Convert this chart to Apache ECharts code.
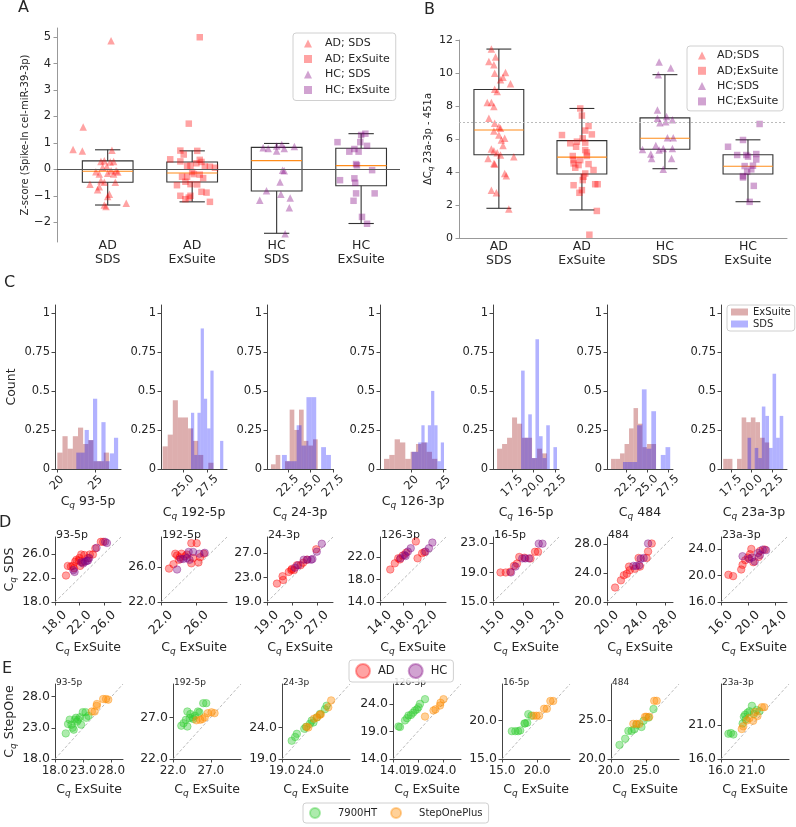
<!DOCTYPE html>
<html><head><meta charset="utf-8">
<script src="https://cdn.jsdelivr.net/npm/echarts@6/dist/echarts.min.js"></script>
<style>html,body{margin:0;padding:0;background:#fff}#c{width:796px;height:827px}</style>
</head><body><div id="c"></div>
<script>
// ================= DATA =================
const groupLabels = ['AD\nSDS', 'AD\nExSuite', 'HC\nSDS', 'HC\nExSuite'];
const groupPositions = [1, 2, 3, 4];

// Panel A – box stats [low whisker, Q1, median, Q3, high whisker]
const aBoxes = [
  [-1.35, -0.49, -0.07, 0.32, 0.74],
  [-1.23, -0.48, -0.14, 0.28, 0.70],
  [-2.42, -0.82, 0.33, 0.83, 0.98],
  [-2.05, -0.62, 0.14, 0.80, 1.35]
];
// Panel A – points [jitter offset, z-score]
const aAdSds = [[0.04,4.87],[-0.29,1.6],[-0.41,0.75],[-0.30,0.69],[0.05,0.72],[-0.08,0.30],[-0.04,0.33],[0.03,0.28],[0.07,0.30],[-0.01,0.11],[-0.14,-0.09],[-0.10,-0.18],[0.0,-0.15],[0.04,-0.05],[0.10,-0.05],[0.12,-0.10],[-0.21,-0.56],[-0.08,-0.43],[-0.04,-0.49],[0.09,-0.49],[-0.12,-0.77],[-0.10,-0.66],[0.02,-0.94],[0.0,-1.03],[-0.04,-1.35],[-0.02,-1.41],[0.22,-1.28],[-0.06,0.08],[0.07,-0.18]];
const aAdEx = [[0.09,5.0],[-0.04,1.73],[-0.14,0.71],[0.06,0.70],[-0.10,0.56],[-0.26,0.38],[-0.14,0.30],[0.09,0.36],[0.05,0.23],[0.11,0.28],[-0.02,0.14],[0.15,0.11],[0.21,0.10],[0.27,0.06],[0.0,-0.10],[0.02,-0.18],[-0.12,-0.28],[-0.06,-0.28],[0.13,-0.33],[-0.08,-0.47],[-0.02,-0.56],[-0.18,-0.60],[0.06,-0.57],[0.11,-0.85],[0.17,-0.88],[-0.14,-1.0],[-0.02,-1.0],[-0.04,-1.07],[-0.08,-1.13],[0.21,-1.23],[-0.06,0.13],[0.09,-0.2]];
const aHcSds = [[0.06,0.94],[0.0,0.88],[0.21,0.86],[-0.16,0.82],[-0.10,0.79],[0.09,0.79],[0.0,0.69],[0.07,-0.03],[0.09,-0.05],[0.04,-0.48],[-0.12,-0.81],[0.05,-0.94],[0.16,-1.08],[-0.20,-1.17],[0.15,-1.45],[0.10,-2.44]];
const aHcEx = [[0.05,1.35],[0.0,1.30],[-0.28,1.03],[-0.01,1.03],[0.07,0.89],[-0.08,0.77],[-0.14,0.67],[-0.03,0.67],[-0.06,0.20],[-0.05,0.15],[0.13,-0.03],[-0.08,-0.34],[-0.25,-0.41],[-0.07,-0.51],[-0.06,-0.91],[0.16,-0.91],[-0.09,-1.19],[0.01,-1.80],[0.07,-2.06]];
const aYTicks = [-2, -1, 0, 1, 2, 3, 4, 5];

// Panel B – box stats
const bBoxes = [
  [1.8, 5.05, 6.55, 9.0, 11.45],
  [1.7, 3.88, 4.9, 5.9, 7.85],
  [4.2, 5.38, 6.05, 7.28, 9.9],
  [2.2, 3.88, 4.35, 5.05, 5.95]
];
const bThreshold = 7.0;
const bAdSds = [[-0.09,11.45],[-0.12,10.7],[-0.04,10.97],[-0.06,10.5],[0.08,10.03],[-0.05,9.99],[0.05,9.75],[0.02,9.59],[0.14,9.35],[-0.05,9.02],[-0.02,8.88],[-0.14,8.21],[-0.09,8.21],[-0.06,7.97],[-0.12,7.26],[-0.05,6.95],[0.0,6.75],[0.02,6.65],[-0.06,6.49],[0.0,6.24],[0.07,6.04],[0.03,5.94],[0.05,5.6],[-0.09,5.39],[-0.06,5.29],[-0.02,5.17],[0.02,5.03],[-0.13,4.82],[0.18,4.93],[-0.06,4.52],[-0.05,4.48],[0.07,3.91],[0.09,3.77],[-0.09,2.9],[-0.03,2.74],[0.12,1.76]];
const bAdEx = [[-0.02,7.85],[0.0,7.42],[0.08,6.79],[0.04,6.51],[0.12,6.28],[-0.24,6.24],[0.01,6.04],[-0.06,5.84],[0.04,5.78],[-0.14,5.74],[-0.07,5.53],[0.04,5.33],[0.06,5.19],[-0.11,4.97],[0.06,4.97],[-0.10,4.72],[-0.02,4.72],[0.08,4.48],[-0.10,4.52],[-0.04,4.42],[-0.08,4.26],[0.14,4.12],[0.04,3.91],[0.02,3.71],[0.01,3.51],[-0.10,3.2],[0.19,3.26],[0.16,3.26],[0.0,2.9],[-0.03,2.74],[0.18,1.64],[0.09,0.2]];
const bHcSds = [[-0.07,10.66],[0.07,10.3],[-0.08,9.89],[-0.09,7.76],[-0.09,7.26],[0.02,7.36],[0.09,7.16],[-0.06,6.99],[0.01,7.05],[0.03,6.08],[0.10,6.08],[-0.11,5.6],[-0.02,5.43],[0.09,5.43],[-0.27,5.37],[-0.07,5.33],[-0.17,5.09],[-0.16,4.82],[0.08,4.82],[-0.02,4.16]];
const bHcEx = [[0.14,6.91],[-0.06,5.94],[-0.24,5.53],[-0.13,5.03],[-0.02,5.03],[0.10,5.09],[0.0,4.93],[0.10,4.76],[-0.04,4.36],[0.06,4.38],[0.04,4.16],[-0.01,4.01],[-0.06,3.75],[-0.06,3.67],[0.07,3.16],[0.02,2.19]];
const bYTicks = [0, 2, 4, 6, 8, 10, 12];

// miRNA names
const mirNames = ['93-5p', '192-5p', '24-3p', '126-3p', '16-5p', '484', '23a-3p'];

// Panel C – histograms (density): first bin edge, bin width, heights
const histExStart = [20.04, 22.87, 20.61, 15.67, 15.77, 20.68, 16.57];
const histExWidth = [0.67, 0.523, 0.519, 0.833, 0.577, 0.536, 0.554];
const histExHeights = [
  [0.105,0.21,0.13,0.21,0.265,0.16,0.185,0.05,0.05,0.105],
  [0.145,0.22,0.44,0.33,0.33,0.26,0.18,0.09,0,0.04],
  [0.03,0.09,0,0.05,0.38,0.25,0.38,0.18,0.15,0.19],
  [0.065,0.09,0.19,0.17,0.065,0.11,0.16,0.17,0.11,0.065],
  [0.13,0.16,0.2,0.33,0.29,0.2,0.2,0.07,0.13,0.1],
  [0.065,0.065,0.1,0.16,0.26,0.39,0.29,0.14,0.16,0.16],
  [0.065,0.065,0,0.065,0.33,0.3,0.33,0.3,0.2,0.17]
];
const histSdsStart = [22.5, 25.79, 21.83, 20.0, 18.54, 22.1, 19.5];
const histSdsWidth = [0.543, 0.333, 0.544, 0.505, 0.415, 0.563, 0.43];
const histSdsHeights = [
  [0.105,0.105,0.25,0.185,0.45,0.05,0.3,0.05,0.1,0.2],
  [0.36,0.09,0.36,0.9,0.45,0.26,0.63,0,0,0.18],
  [0.09,0.05,0.05,0.28,0.15,0.46,0.46,0,0.14,0.09],
  [0.11,0.11,0.17,0.28,0.17,0.28,0.5,0.28,0.05,0.17],
  [0.63,0.2,0.35,0.07,0.83,0.21,0.07,0.28,0,0.14],
  [0.045,0.045,0.045,0.28,0.51,0.13,0.37,0,0.09,0.14],
  [0.2,0,0.135,0.07,0.4,0.34,0.135,0.61,0.2,0.34]
];
const cXRange = [[19.74,28.3],[22.7,29.5],[20.17,27.5],[15.05,25.36],[15.3,22.92],[20.2,28.06],[16.3,24.25]];
const cXTicks = [[20,25],[25,27.5],[22.5,25,27.5],[20,25],[17.5,20,22.5],[22.5,25,27.5],[17.5,20,22.5]];
const cXDecimals = [0,1,1,0,1,1,1];
const cYTicks = [0, 0.25, 0.5, 0.75, 1];

// Panel D – Cq ExSuite (x) vs Cq SDS (y)
const dAd = [
  [[19.8,22.4],[20.1,24.0],[20.6,23.9],[20.9,24.0],[21.3,24.7],[21.5,25.0],[21.9,24.9],[22.3,25.9],[22.1,24.0],[22.8,25.8],[23.7,25.9],[24.2,25.9],[24.6,26.9],[25.5,28.0],[25.9,28.0],[22.5,24.6],[21.1,23.6],[23.4,25.3],[22.0,25.3]],
  [[22.9,25.8],[23.4,26.3],[23.6,27.5],[24.1,27.1],[24.3,27.5],[24.7,27.2],[24.9,27.4],[25.4,28.7],[26.0,28.7],[25.6,27.0],[26.4,27.1],[26.8,27.5],[25.4,26.4],[26.2,26.5],[24.0,26.8],[23.8,27.3]],
  [[20.6,22.0],[21.6,22.6],[21.5,23.2],[22.9,24.2],[23.3,24.2],[23.8,25.0],[24.4,25.0],[25.4,25.9],[26.9,27.6],[24.8,25.4],[23.0,24.4],[22.5,23.9]],
  [[15.8,19.8],[16.6,20.9],[17.2,21.8],[18.0,22.3],[18.6,22.8],[20.3,24.8],[20.6,21.8],[21.4,22.7],[21.8,22.9],[17.5,21.6]],
  [[16.0,19.0],[16.7,19.0],[17.8,19.9],[18.2,20.2],[18.5,21.1],[19.2,21.0],[20.0,20.9],[20.6,21.8],[21.0,21.8],[17.3,19.1]],
  [[21.1,22.0],[21.9,23.0],[22.3,23.7],[22.7,23.9],[23.1,24.4],[23.8,24.6],[24.5,24.9],[24.3,26.1],[25.4,26.1],[25.6,27.0],[26.1,28.1],[23.0,24.9]],
  [[17.1,20.1],[17.8,19.9],[19.0,20.9],[19.2,21.6],[19.6,22.3],[20.0,22.7],[20.5,24.0],[20.8,22.0],[21.6,22.8],[21.8,23.7],[22.5,23.9],[20.3,23.2]]
];
const dHc = [
  [[21.0,23.3],[21.2,23.0],[22.6,24.4],[23.2,24.8],[23.6,25.3],[22.9,24.7],[24.8,27.0],[26.2,28.0],[26.5,27.8],[22.3,24.6],[23.4,24.9]],
  [[23.8,25.7],[24.2,26.9],[24.9,27.0],[25.1,27.7],[25.6,27.7],[26.3,27.5],[26.9,27.6],[25.2,26.8],[24.5,26.9]],
  [[24.0,25.0],[24.9,25.9],[25.5,25.9],[26.1,25.9],[26.3,26.0],[27.0,27.2],[27.8,28.5],[23.5,24.6]],
  [[17.6,21.8],[18.3,22.4],[18.9,23.0],[19.4,23.6],[22.0,23.0],[22.6,23.6],[23.2,24.6],[18.5,22.2]],
  [[17.4,19.0],[18.9,20.9],[19.3,20.9],[19.8,20.9],[21.1,22.9],[21.6,22.9],[18.0,19.8]],
  [[23.6,25.0],[24.0,25.0],[24.4,25.1],[25.0,26.1],[25.6,28.1],[24.6,26.0]],
  [[19.2,22.9],[20.2,22.5],[21.0,22.1],[21.5,23.4],[21.8,23.1],[22.2,23.9],[22.7,23.8],[20.6,22.7]]
];
const dRange = [[18,28.8],[22,29.4],[19,29.6],[14,25.6],[15,23.8],[20,29],[16,25.8]];
const dTicks = [[18,22,26],[22,26],[19,23,27],[14,18,22],[15,19,23],[20,24,28],[16,20,24]];

// Panel E – Cq ExSuite (x) vs Cq StepOne (y)
const e7900 = [
  [[19.9,22.1],[20.3,23.6],[20.9,23.5],[21.3,22.7],[21.1,23.0],[21.7,24.6],[21.9,24.0],[22.4,24.7],[22.6,23.5],[22.9,25.5],[23.4,25.5],[23.5,24.6],[23.9,24.9],[21.5,24.3],[22.1,24.3],[20.6,24.3]],
  [[23.1,26.0],[23.4,26.3],[23.9,25.9],[23.7,26.7],[23.9,27.7],[24.3,27.4],[24.6,27.0],[24.9,27.2],[25.3,27.7],[25.5,27.6],[26.0,28.7],[26.4,28.7],[24.7,26.8],[24.2,26.9]],
  [[20.7,21.9],[21.3,22.5],[21.6,23.0],[22.9,23.8],[23.2,24.1],[23.9,24.6],[24.2,25.1],[24.5,24.8],[25.1,25.6],[25.65,26.15],[26.5,26.9],[26.8,27.45]],
  [[15.1,19.9],[15.4,19.8],[16.4,21.0],[17.1,21.9],[17.6,22.0],[18.0,22.4],[18.4,22.8],[19.1,23.4],[19.4,24.0],[18.8,23.0],[20.4,24.85],[16.8,21.4]],
  [[16.4,18.6],[16.9,18.6],[17.3,18.6],[17.6,18.7],[18.3,19.6],[18.6,19.7],[18.75,20.8],[19.2,20.6],[18.2,19.6]],
  [[21.2,21.8],[22.0,22.6],[22.45,23.6],[22.9,23.6],[23.3,23.8],[24.3,24.1],[24.6,24.9],[25.3,25.3],[26.0,26.4],[23.6,24.4]],
  [[17.2,19.7],[18.0,19.6],[17.6,19.8],[19.5,21.2],[19.7,22.2],[19.9,22.5],[20.3,22.8],[20.6,23.0],[21.0,23.8],[21.3,22.6],[21.8,23.2],[22.2,23.0],[20.0,21.8]]
];
const eStepOne = [
  [[24.5,25.6],[25.0,25.6],[25.35,26.5],[25.4,26.8],[26.5,27.6],[27.0,27.6],[27.4,27.5]],
  [[25.1,26.65],[25.6,26.7],[26.2,27.0],[26.6,27.5],[27.1,27.6],[27.5,27.5],[25.9,26.8]],
  [[23.3,24.1],[23.6,24.0],[24.6,25.4],[25.1,25.6],[25.6,26.0],[25.8,26.1],[27.1,27.2],[27.6,28.3]],
  [[20.4,21.7],[22.1,22.8],[22.5,23.0],[23.4,23.7],[23.5,24.2],[24.1,24.85]],
  [[19.5,20.6],[19.9,20.6],[20.3,20.6],[21.0,21.5],[21.4,21.5],[21.9,22.5],[22.3,22.5]],
  [[23.15,24.5],[23.6,24.5],[24.0,24.5],[24.8,25.4],[25.0,25.4],[26.1,27.45],[26.45,27.45],[25.4,25.4]],
  [[19.35,20.4],[19.6,20.8],[20.2,21.65],[20.6,22.0],[21.2,21.6],[21.9,22.3],[22.6,23.6],[23.0,23.6],[21.5,22.9]]
];
const eRange = [[18,30],[22,31],[19,30.9],[14,27.6],[15,24.7],[20,29.6],[16,27]];
const eTicks = [[18,23,28],[22,27],[19,24],[14,19,24],[15,20],[20,25],[16,21]];

// ================= STYLE / LAYOUT =================
const FONT = 'DejaVu Sans';
const TXT = '#262626';
const RED = 'rgba(255,0,0,0.45)', PURPLE = 'rgba(128,0,128,0.45)';
const BROWN = 'rgba(165,42,42,0.38)', BLUE = 'rgba(0,0,255,0.3)';
const GREEN = 'rgba(50,205,50,0.5)', ORANGE = 'rgba(255,140,0,0.5)';
const colLeft = [55, 161, 267, 380, 493, 607, 721];
const eLeft = [55, 173, 282, 393, 502, 611, 721];

const RICH = {
  c: {fontSize: 12.5, fontFamily: FONT, color: TXT, lineHeight: 16, verticalAlign: 'middle'},
  q: {fontSize: 9, fontFamily: FONT, fontStyle: 'italic', color: TXT, lineHeight: 9, verticalAlign: 'bottom'},
  c2: {fontSize: 10, fontFamily: FONT, color: TXT, lineHeight: 14, verticalAlign: 'middle'},
  q2: {fontSize: 7.5, fontFamily: FONT, fontStyle: 'italic', color: TXT, lineHeight: 8, verticalAlign: 'bottom'}
};
const cq = rest => '{c|C}{q|q}{c| ' + rest + '}';

const grids = [], xAxes = [], yAxes = [], series = [], extraX = [];
function addGrid(g) { grids.push(g); return grids.length - 1; }
const spine = c => ({show: true, onZero: false, lineStyle: {color: c, width: 1}});
const tickCfg = (vals, c) => ({show: true, length: 3.5, customValues: vals, lineStyle: {color: c, width: 1}});
const lab = (vals, fmt, extra) => Object.assign({show: true, customValues: vals, formatter: fmt, fontSize: 11, color: TXT, fontFamily: FONT, margin: 6,
  showMinLabel: true, showMaxLabel: true, hideOverlap: false}, extra || {});
const minusFmt = v => v < 0 ? '\u2212' + (-v) : String(v);

function boxRender(params, api) {
  const x = api.value(0), lo = api.value(1), q1 = api.value(2), md = api.value(3), q3 = api.value(4), hi = api.value(5);
  const hw = 0.3, cw = 0.15;
  const P = (a, b) => api.coord([a, b]);
  const ln = (a, b, col) => ({type: 'line', shape: {x1: a[0], y1: a[1], x2: b[0], y2: b[1]}, style: {stroke: col || '#333', lineWidth: 1.1}});
  const tl = P(x - hw, q3), br = P(x + hw, q1);
  return {type: 'group', children: [
    {type: 'rect', shape: {x: tl[0], y: tl[1], width: br[0] - tl[0], height: br[1] - tl[1]}, style: {fill: 'none', stroke: '#333', lineWidth: 1.1}},
    ln(P(x, q3), P(x, hi)), ln(P(x, q1), P(x, lo)),
    ln(P(x - cw, hi), P(x + cw, hi)), ln(P(x - cw, lo), P(x + cw, lo)),
    ln(P(x - hw, md), P(x + hw, md), '#ff8c1a')
  ]};
}
const jit = (arr, pos) => arr.map(p => [pos + p[0], p[1]]);

// ---------- Panel A ----------
const gA = addGrid({left: 57, top: 28, width: 343, height: 214});
xAxes.push({gridIndex: gA, type: 'value', min: 0.4, max: 4.46, axisLine: {show: false, onZero: false}, axisTick: {show: false}, splitLine: {show: false},
  axisLabel: lab(groupPositions, v => groupLabels[Math.round(v) - 1], {fontSize: 12.5, lineHeight: 14.5, margin: -4})});
yAxes.push({gridIndex: gA, type: 'value', min: -2.75, max: 5.35, axisLine: spine('#999'), axisTick: tickCfg(aYTicks, '#999'), splitLine: {show: false},
  axisLabel: lab(aYTicks, minusFmt, {fontSize: 11.5}),
  name: 'Z-score (Spike-In cel-miR-39-3p)', nameLocation: 'middle', nameGap: 24, nameTextStyle: {fontSize: 10, color: TXT, fontFamily: FONT}});
series.push({type: 'custom', xAxisIndex: gA, yAxisIndex: gA, silent: true, renderItem: boxRender,
  data: aBoxes.map((b, i) => [groupPositions[i]].concat(b)), z: 2,
  markLine: {silent: true, symbol: 'none', label: {show: false}, lineStyle: {color: '#555', type: 'solid', width: 1.2}, data: [{yAxis: 0}]}});
[['AD; SDS', aAdSds, 0, 'triangle', RED], ['AD; ExSuite', aAdEx, 1, 'rect', RED], ['HC; SDS', aHcSds, 2, 'triangle', PURPLE], ['HC; ExSuite', aHcEx, 3, 'rect', PURPLE]].forEach(s => {
  series.push({type: 'scatter', name: s[0], xAxisIndex: gA, yAxisIndex: gA, symbol: s[3], symbolSize: s[3] === 'rect' ? 6.5 : 7.5,
    itemStyle: {color: s[4]}, data: jit(s[1], groupPositions[s[2]]), z: 3});
});

// ---------- Panel B ----------
const gB = addGrid({left: 459, top: 40, width: 328, height: 198});
xAxes.push({gridIndex: gB, type: 'value', min: 0.52, max: 4.47, axisLine: spine('#999'), axisTick: {show: false}, splitLine: {show: false},
  axisLabel: lab(groupPositions, v => groupLabels[Math.round(v) - 1], {fontSize: 12.5, lineHeight: 14.5, margin: 1})});
yAxes.push({gridIndex: gB, type: 'value', min: 0, max: 12, axisLine: spine('#999'), axisTick: tickCfg(bYTicks, '#999'), splitLine: {show: false},
  axisLabel: lab(bYTicks, v => String(v), {fontSize: 11}),
  name: '{c2|\u0394C}{q2|q}{c2| 23a-3p - 451a}', nameLocation: 'middle', nameGap: 18, nameTextStyle: {rich: RICH}});
series.push({type: 'custom', xAxisIndex: gB, yAxisIndex: gB, silent: true, renderItem: boxRender,
  data: bBoxes.map((b, i) => [groupPositions[i]].concat(b)), z: 2,
  markLine: {silent: true, symbol: 'none', label: {show: false}, lineStyle: {color: '#bbb', type: [2, 2], width: 1}, data: [{yAxis: bThreshold}]}});
[['AD;SDS', bAdSds, 0, 'triangle', RED], ['AD;ExSuite', bAdEx, 1, 'rect', RED], ['HC;SDS', bHcSds, 2, 'triangle', PURPLE], ['HC;ExSuite', bHcEx, 3, 'rect', PURPLE]].forEach(s => {
  series.push({type: 'scatter', name: s[0], xAxisIndex: gB, yAxisIndex: gB, symbol: s[3], symbolSize: s[3] === 'rect' ? 6.5 : 7.5,
    itemStyle: {color: s[4]}, data: jit(s[1], groupPositions[s[2]]), z: 3});
});

// ---------- Panel C ----------
function histRender(color) {
  return function (params, api) {
    const p0 = api.coord([api.value(0), api.value(2)]);
    const p1 = api.coord([api.value(1), 0]);
    return {type: 'rect', shape: {x: p0[0], y: p0[1], width: p1[0] - p0[0], height: p1[1] - p0[1]}, style: {fill: color}};
  };
}
const bins = (start, w, hs) => hs.map((h, i) => [start + i * w, start + (i + 1) * w, h]);
for (let k = 0; k < 7; k++) {
  const g = addGrid({left: colLeft[k], top: 305, width: 66, height: 164});
  const dec = cXDecimals[k];
  xAxes.push({gridIndex: g, type: 'value', min: cXRange[k][0], max: cXRange[k][1], axisLine: spine('#444'), axisTick: tickCfg(cXTicks[k], '#444'), splitLine: {show: false},
    axisLabel: lab(cXTicks[k], v => v.toFixed(dec), {fontSize: 11.5, rotate: 45, align: 'center', verticalAlign: 'middle', margin: dec ? 17 : 14}),
    name: cq(mirNames[k]), nameLocation: 'middle', nameGap: dec ? 36 : 24, nameTextStyle: {rich: RICH}});
  const yA = {gridIndex: g, type: 'value', min: 0, max: 1.05, axisLine: spine('#444'), axisTick: tickCfg(cYTicks, '#444'), splitLine: {show: false},
    axisLabel: lab(cYTicks, v => String(v), {fontSize: 11.5, margin: 5})};
  if (k === 0) Object.assign(yA, {name: 'Count', nameLocation: 'middle', nameGap: 37, nameTextStyle: {fontSize: 12.5, color: TXT, fontFamily: FONT}});
  yAxes.push(yA);
  series.push({type: 'custom', name: 'ExSuite', xAxisIndex: g, yAxisIndex: g, silent: true, itemStyle: {color: BROWN}, renderItem: histRender(BROWN), data: bins(histExStart[k], histExWidth[k], histExHeights[k])});
  series.push({type: 'custom', name: 'SDS', xAxisIndex: g, yAxisIndex: g, silent: true, itemStyle: {color: BLUE}, renderItem: histRender(BLUE), data: bins(histSdsStart[k], histSdsWidth[k], histSdsHeights[k])});
}

// ---------- Panels D & E ----------
function scatterPanel(k, left, top, w, h, range, tks, dataA, dataB, names, colors, opts) {
  const g = addGrid({left: left, top: top, width: w, height: h});
  // ticks are split over two x-axes on the same grid so that crowded labels are all kept (as in the original)
  const tkA = tks.filter((t, i) => i % 2 === 0), tkB = tks.filter((t, i) => i % 2 === 1);
  xAxes.push({gridIndex: g, type: 'value', min: range[0], max: range[1], axisLine: spine('#444'), axisTick: tickCfg(tks, '#444'), splitLine: {show: false},
    axisLabel: lab(tkA, v => v.toFixed(1), opts.xLabel),
    name: cq('ExSuite'), nameLocation: 'middle', nameGap: opts.xNameGap, nameTextStyle: {rich: RICH}});
  extraX.push({gridIndex: g, type: 'value', position: 'bottom', min: range[0], max: range[1], axisLine: {show: false, onZero: false}, axisTick: {show: false}, splitLine: {show: false},
    axisLabel: lab(tkB, v => v.toFixed(1), opts.xLabel)});
  const yA = {gridIndex: g, type: 'value', min: range[0], max: range[1], axisLine: spine('#444'), axisTick: tickCfg(tks, '#444'), splitLine: {show: false},
    axisLabel: lab(tks, v => v.toFixed(1), {fontSize: 12.5, margin: 5})};
  if (k === 0) Object.assign(yA, {name: cq(opts.yName), nameLocation: 'middle', nameGap: 37, nameTextStyle: {rich: RICH}});
  yAxes.push(yA);
  series.push({type: 'line', xAxisIndex: g, yAxisIndex: g, silent: true, symbol: 'none', data: [[range[0], range[0]], [range[1], range[1]]],
    lineStyle: {color: '#aaa', type: [3, 2], width: 0.8}, z: 1});
  [[names[0], dataA, colors[0]], [names[1], dataB, colors[1]]].forEach(s => {
    series.push({type: 'scatter', name: s[0], xAxisIndex: g, yAxisIndex: g, symbol: 'circle', symbolSize: 7.5,
      itemStyle: {color: s[2], borderColor: s[2], borderWidth: 1}, data: s[1], z: 3});
  });
}
for (let k = 0; k < 7; k++) {
  scatterPanel(k, colLeft[k], 537, 66, 65, dRange[k], dTicks[k], dAd[k], dHc[k], ['AD', 'HC'], [RED, PURPLE],
    {xLabel: {fontSize: 12.5, rotate: 45, align: 'center', verticalAlign: 'middle', margin: 21}, xNameGap: 38, yName: 'SDS'});
}
for (let k = 0; k < 7; k++) {
  scatterPanel(k, eLeft[k], 684, 68, 75, eRange[k], eTicks[k], e7900[k], eStepOne[k], ['7900HT', 'StepOnePlus'], [GREEN, ORANGE],
    {xLabel: {fontSize: 12, margin: 6}, xNameGap: 23, yName: 'StepOne'});
}
const allX = xAxes.concat(extraX);

// ---------- Legends ----------
const legBase = {selectedMode: false, backgroundColor: 'rgba(255,255,255,0.85)', borderColor: '#d0d0d0', borderWidth: 1, borderRadius: 3,
  textStyle: {fontFamily: FONT, color: TXT, fontSize: 11}};
const legends = [
  Object.assign({}, legBase, {left: 293, top: 33, orient: 'vertical', padding: [4, 6, 4, 11], itemGap: 2.5, itemWidth: 8, itemHeight: 8,
    textStyle: {fontFamily: FONT, color: TXT, fontSize: 11, padding: [0, 0, 0, 8], lineHeight: 13},
    data: ['AD; SDS', 'AD; ExSuite', 'HC; SDS', 'HC; ExSuite']}),
  Object.assign({}, legBase, {left: 687, top: 46, orient: 'vertical', padding: [3, 5, 3, 11], itemGap: 2.3, itemWidth: 8, itemHeight: 8,
    textStyle: {fontFamily: FONT, color: TXT, fontSize: 11, padding: [0, 0, 0, 6], lineHeight: 13},
    data: ['AD;SDS', 'AD;ExSuite', 'HC;SDS', 'HC;ExSuite']}),
  Object.assign({}, legBase, {left: 727, top: 305, orient: 'vertical', padding: [2, 4, 2, 4], itemGap: 2, itemWidth: 17, itemHeight: 7,
    textStyle: {fontFamily: FONT, color: TXT, fontSize: 10}, data: [{name: 'ExSuite', icon: 'rect'}, {name: 'SDS', icon: 'rect'}]}),
  Object.assign({}, legBase, {left: 349, top: 660, orient: 'horizontal', padding: [3, 6, 3, 6], itemGap: 13, itemWidth: 20, itemHeight: 14,
    textStyle: {fontFamily: FONT, color: TXT, fontSize: 11.5}, data: [{name: 'AD', icon: 'circle'}, {name: 'HC', icon: 'circle'}]}),
  Object.assign({}, legBase, {left: 303, top: 803, orient: 'horizontal', padding: [4, 6, 4, 6], itemGap: 13, itemWidth: 20, itemHeight: 10,
    textStyle: {fontFamily: FONT, color: TXT, fontSize: 10, padding: [0, 0, 0, 8]},
    data: [{name: '7900HT', icon: 'circle'}, {name: 'StepOnePlus', icon: 'circle'}]})
];

// ---------- Text annotations ----------
const graphics = [];
[['A', 24, 9], ['B', 430, 11], ['C', 10, 284], ['D', 5, 524], ['E', 8, 670]].forEach(t => {
  graphics.push({type: 'text', left: t[1] - 6, top: t[2] - 9, style: {text: t[0], fontSize: 16, fontFamily: FONT, fill: TXT}});
});
for (let k = 0; k < 7; k++) {
  graphics.push({type: 'text', left: colLeft[k] + 1, top: 530, style: {text: mirNames[k], fontSize: 11, fontFamily: FONT, fill: TXT}});
  graphics.push({type: 'text', left: eLeft[k] + 1, top: 678, style: {text: mirNames[k], fontSize: 9, fontFamily: FONT, fill: TXT}});
}

const chart = echarts.init(document.getElementById('c'), null, {renderer: 'canvas', width: 796, height: 827});
chart.setOption({
  animation: false, backgroundColor: '#fff',
  textStyle: {fontFamily: FONT, color: TXT},
  grid: grids, xAxis: allX, yAxis: yAxes, series: series, legend: legends, graphic: graphics
});
</script></body></html>
